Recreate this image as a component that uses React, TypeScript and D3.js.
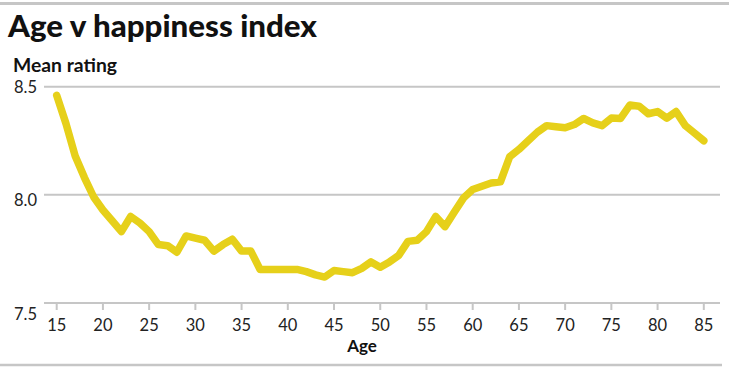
import React, { useEffect } from "react";
import * as d3 from "d3";

const ages = d3.range(15, 86);
const rating = [
  8.46, 8.33, 8.18, 8.08, 7.99, 7.93, 7.88, 7.83, 7.9, 7.87, 7.83, 7.77, 7.765,
  7.735, 7.81, 7.8, 7.79, 7.74, 7.77, 7.795, 7.74, 7.74, 7.655, 7.655, 7.655,
  7.655, 7.655, 7.645, 7.63, 7.62, 7.65, 7.645, 7.64, 7.66, 7.69, 7.665, 7.69,
  7.72, 7.785, 7.79, 7.83, 7.9, 7.853, 7.92, 7.985, 8.025, 8.04, 8.055, 8.06,
  8.176, 8.21, 8.25, 8.29, 8.32, 8.315, 8.31, 8.325, 8.353, 8.333, 8.32, 8.355,
  8.353, 8.415, 8.41, 8.375, 8.385, 8.355, 8.385, 8.32, 8.285, 8.25,
];
const xTicks = [15, 20, 25, 30, 35, 40, 45, 50, 55, 60, 65, 70, 75, 80, 85];
const yTicks = [8.5, 8.0, 7.5];

const width = 729;
const height = 369;
const font = "Lato, 'Open Sans', sans-serif";
const grey = "#c6c6c6";

const App = () => {
  useEffect(() => {
    document.body.style.margin = "0";
  }, []);

  const x = d3.scaleLinear().domain([15, 85]).range([56.7, 703.8]);
  const y = d3.scaleLinear().domain([7.5, 8.5]).range([303, 86.7]);
  // tick labels drift a little lower than their gridlines in the original
  const yLabel = d3.scaleLinear().domain([7.5, 8.5]).range([314, 87]);

  const line = d3
    .line<number>()
    .x((d, i) => x(ages[i]))
    .y((d) => y(d))
    .curve(d3.curveLinear);

  return (
    <svg
      width={width}
      height={height}
      style={{ display: "block", background: "#fff" }}
    >
      <line x1={0} x2={width} y1={3.5} y2={3.5} stroke={grey} strokeWidth={3} />
      <text
        x={8}
        y={37}
        fontFamily={font}
        fontWeight={900}
        fontSize={30}
        textLength={309}
        lengthAdjust="spacingAndGlyphs"
        fill="#111"
      >
        Age v happiness index
      </text>
      <text
        x={13}
        y={72}
        fontFamily={font}
        fontWeight={700}
        fontSize={18}
        textLength={104}
        lengthAdjust="spacingAndGlyphs"
        fill="#111"
      >
        Mean rating
      </text>

      {yTicks.map((t) => (
        <g key={t}>
          <line x1={44} x2={720} y1={y(t)} y2={y(t)} stroke={grey} strokeWidth={2} />
          <text
            x={37}
            y={yLabel(t)}
            dy="0.35em"
            textAnchor="end"
            fontFamily={font}
            fontSize={16.5}
            fill="#222"
          >
            {t.toFixed(1)}
          </text>
        </g>
      ))}

      {xTicks.map((t) => (
        <g key={t} transform={`translate(${x(t)},0)`}>
          <line y1={y(7.5)} y2={y(7.5) + 7} stroke={grey} strokeWidth={2} />
          <text
            y={331}
            textAnchor="middle"
            fontFamily={font}
            fontSize={16.5}
            fill="#222"
          >
            {t}
          </text>
        </g>
      ))}
      <text x={362} y={352} textAnchor="middle" fontFamily={font} fontWeight={700} fontSize={17} fill="#111">
        Age
      </text>

      <path
        d={line(rating) || ""}
        fill="none"
        stroke="#e6d01a"
        strokeWidth={7.5}
        strokeLinejoin="round"
        strokeLinecap="round"
      />

      <line x1={0} x2={722} y1={365} y2={365} stroke={grey} strokeWidth={2.5} />
    </svg>
  );
};

export default App;
